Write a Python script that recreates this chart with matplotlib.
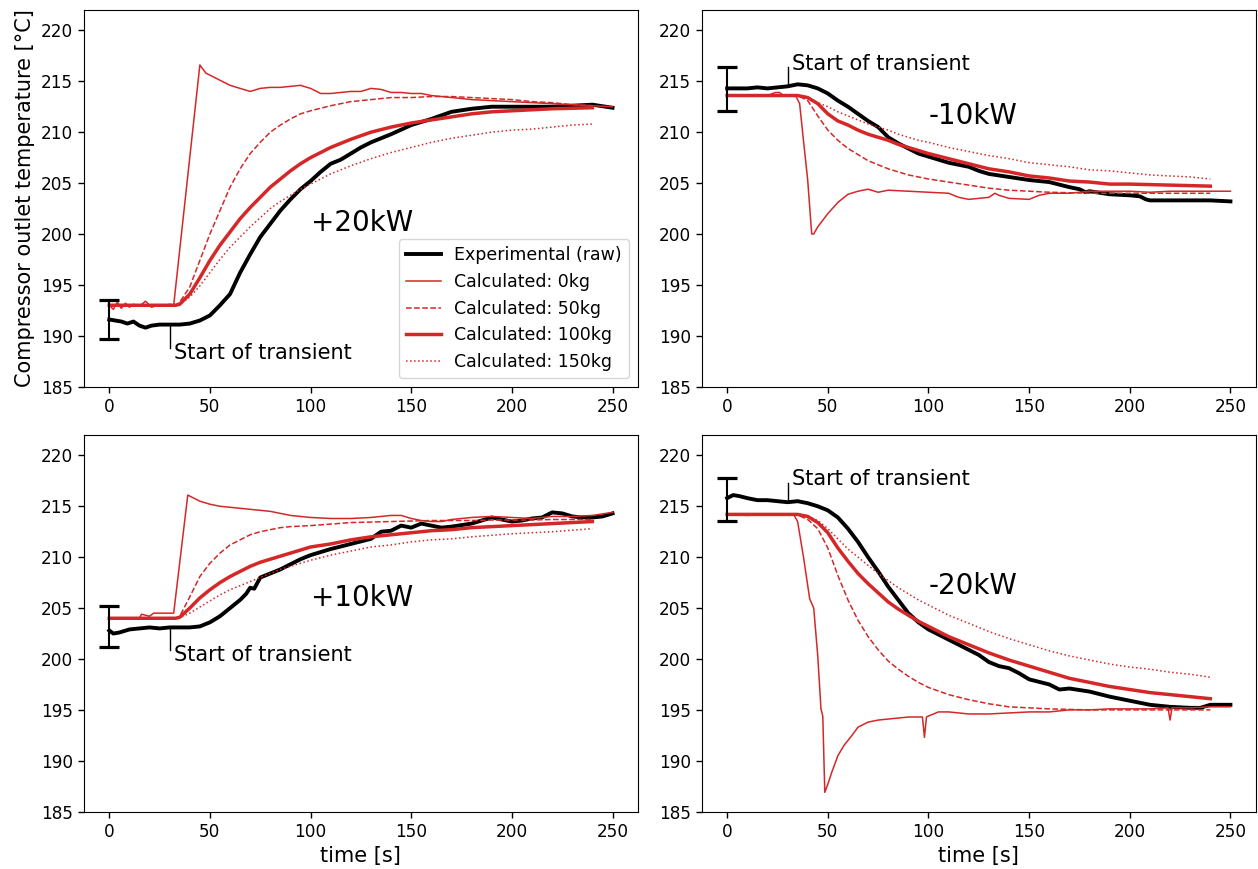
import matplotlib
matplotlib.use("Agg")
import matplotlib.pyplot as plt

RED = "#d62728"

# ---------------------------------------------------------------- data
# Common time grid of the smooth calculated responses (50/100/150 kg)
t_calc = [0, 30, 33, 35, 40, 45, 50, 55, 60, 65, 70, 75, 80, 85, 90, 95, 100,
          110, 120, 130, 140, 150, 160, 170, 180, 190, 200, 210, 220, 230, 240]

# ---- +20kW step
t_exp_p20 = [0, 3, 6, 9, 12, 15, 18, 21, 25, 30, 35, 40, 45, 50, 55, 60, 65, 70, 75,
             80, 85, 90, 95, 100, 105, 110, 115, 120, 125, 130, 140, 150, 160, 170,
             180, 190, 200, 210, 220, 230, 240, 250]
exp_p20 = [191.6, 191.5, 191.4, 191.2, 191.4, 191.0, 190.8, 191.0, 191.1, 191.1, 191.1,
           191.2, 191.5, 192.0, 193.0, 194.1, 196.2, 198.0, 199.7, 201.0, 202.3, 203.4,
           204.4, 205.2, 206.1, 206.9, 207.3, 207.9, 208.5, 209.0, 209.8, 210.7, 211.3,
           212.0, 212.3, 212.5, 212.5, 212.5, 212.5, 212.6, 212.7, 212.4]
t_0kg_p20 = [0, 2, 4, 6, 8, 10, 12, 15, 18, 21, 24, 27, 30, 32, 45, 48, 50, 55, 60, 65,
             70, 75, 80, 85, 90, 95, 100, 105, 110, 115, 120, 125, 130, 135, 140, 145,
             150, 155, 160, 170, 180, 190, 200, 210, 220, 230, 240, 250]
calc0_p20 = [193.0, 192.6, 193.3, 192.7, 193.2, 192.8, 193.1, 192.9, 193.4, 192.8, 193.0,
             192.9, 193.1, 193.0, 216.6, 215.8, 215.6, 215.1, 214.6, 214.3, 214.0, 214.3,
             214.4, 214.4, 214.5, 214.6, 214.3, 213.8, 213.8, 213.9, 214.0, 214.0, 214.3,
             214.2, 213.9, 213.9, 213.8, 213.8, 213.6, 213.4, 213.2, 213.1, 213.0, 212.9,
             212.8, 212.7, 212.6, 212.5]
calc50_p20 = [193.0, 193.0, 193.0, 193.3, 194.8, 197.4, 200.0, 202.3, 204.6, 206.4, 207.9,
              209.0, 210.0, 210.7, 211.3, 211.8, 212.1, 212.6, 213.0, 213.2, 213.4, 213.4,
              213.5, 213.5, 213.4, 213.3, 213.2, 213.0, 212.9, 212.7, 212.6]
calc100_p20 = [193.0, 193.0, 193.0, 193.1, 194.1, 195.7, 197.4, 198.9, 200.2, 201.5, 202.6,
               203.6, 204.6, 205.4, 206.2, 206.9, 207.5, 208.5, 209.3, 210.0, 210.5, 210.9,
               211.2, 211.5, 211.8, 212.0, 212.1, 212.2, 212.3, 212.35, 212.4]
calc150_p20 = [193.0, 193.0, 193.0, 193.1, 193.8, 194.9, 196.2, 197.5, 198.7, 199.7, 200.7,
               201.6, 202.5, 203.2, 203.8, 204.4, 204.9, 205.9, 206.7, 207.4, 208.0, 208.5,
               209.0, 209.4, 209.7, 210.0, 210.2, 210.3, 210.5, 210.7, 210.8]

# ---- -10kW step
t_exp_m10 = [0, 5, 10, 15, 20, 25, 30, 35, 40, 45, 50, 55, 60, 65, 70, 75, 80, 85, 90, 95,
             100, 110, 120, 125, 130, 140, 150, 160, 170, 175, 178, 180, 190, 200, 205,
             208, 210, 220, 230, 240, 250]
exp_m10 = [214.3, 214.3, 214.3, 214.4, 214.3, 214.4, 214.5, 214.7, 214.6, 214.3, 213.8,
           213.1, 212.5, 211.8, 211.1, 210.5, 209.5, 208.9, 208.4, 207.9, 207.6, 207.0,
           206.6, 206.2, 205.9, 205.6, 205.3, 205.1, 204.6, 204.4, 204.1, 204.2, 203.9,
           203.8, 203.7, 203.4, 203.3, 203.3, 203.3, 203.3, 203.2]
t_0kg_m10 = [0, 10, 20, 24, 26, 28, 34, 36, 38, 40, 42, 43, 45, 50, 55, 60, 65, 70, 75, 80,
             90, 100, 110, 115, 120, 130, 133, 135, 140, 150, 155, 160, 170, 180, 190, 200,
             210, 220, 230, 240, 250]
calc0_m10 = [213.6, 213.6, 213.6, 213.9, 213.9, 213.6, 213.6, 212.8, 209.0, 205.3, 200.0,
             200.0, 200.7, 202.0, 203.1, 203.9, 204.2, 204.4, 204.1, 204.3, 204.2, 204.1,
             204.0, 203.6, 203.4, 203.6, 204.0, 203.8, 203.5, 203.4, 203.8, 204.0, 204.0,
             204.2, 204.2, 204.2, 204.1, 204.2, 204.2, 204.2, 204.2]
calc50_m10 = [213.6, 213.6, 213.6, 213.6, 213.1, 211.6, 210.2, 209.2, 208.4, 207.8, 207.2,
              206.8, 206.4, 206.1, 205.8, 205.6, 205.4, 205.1, 204.8, 204.5, 204.3, 204.2,
              204.1, 204.05, 204.0, 204.0, 204.0, 204.0, 204.0, 204.0, 204.0]
calc100_m10 = [213.6, 213.6, 213.6, 213.6, 213.4, 212.8, 211.8, 211.1, 210.7, 210.2, 209.8,
               209.5, 209.2, 208.8, 208.5, 208.2, 207.9, 207.4, 206.9, 206.4, 206.1, 205.7,
               205.5, 205.2, 205.1, 204.9, 204.9, 204.85, 204.8, 204.75, 204.7]
calc150_m10 = [213.6, 213.6, 213.6, 213.6, 213.4, 212.9, 212.5, 212.0, 211.6, 211.2, 210.8,
               210.5, 210.2, 209.8, 209.5, 209.2, 209.0, 208.5, 208.1, 207.7, 207.4, 207.0,
               206.8, 206.6, 206.3, 206.2, 206.0, 205.8, 205.7, 205.6, 205.4]

# ---- +10kW step
t_exp_p10 = [0, 2, 5, 10, 15, 20, 25, 30, 35, 40, 45, 50, 55, 60, 65, 68, 70, 72, 75, 80,
             85, 90, 95, 100, 110, 120, 130, 135, 140, 145, 150, 155, 160, 165, 170, 180,
             185, 190, 195, 200, 205, 210, 215, 220, 225, 230, 235, 240, 245, 250]
exp_p10 = [202.8, 202.5, 202.6, 202.9, 203.0, 203.1, 203.0, 203.1, 203.1, 203.1, 203.2,
           203.6, 204.2, 205.0, 205.8, 206.4, 207.0, 206.9, 208.0, 208.4, 208.8, 209.3,
           209.8, 210.2, 210.8, 211.3, 211.8, 212.5, 212.6, 213.1, 212.9, 213.3, 213.1,
           212.9, 213.0, 213.3, 213.6, 213.9, 213.7, 213.5, 213.6, 213.8, 213.9, 214.4,
           214.3, 214.0, 213.9, 213.9, 214.0, 214.3]
t_0kg_p10 = [0, 15, 16, 20, 22, 25, 30, 32, 39, 45, 50, 55, 60, 70, 75, 80, 85, 90, 100,
             110, 120, 130, 140, 145, 150, 155, 160, 165, 170, 180, 190, 200, 210, 220,
             230, 240, 250]
calc0_p10 = [204.0, 204.0, 204.4, 204.2, 204.5, 204.5, 204.5, 204.5, 216.1, 215.5, 215.2,
             215.0, 214.9, 214.7, 214.6, 214.5, 214.3, 214.1, 213.9, 213.8, 213.8, 213.9,
             214.1, 214.1, 213.8, 213.6, 213.5, 213.5, 213.7, 213.9, 214.0, 213.9, 213.8,
             214.0, 214.0, 214.1, 214.4]
calc50_p10 = [204.0, 204.0, 204.0, 204.2, 206.1, 208.1, 209.4, 210.4, 211.2, 211.7, 212.2,
              212.5, 212.7, 212.9, 213.0, 213.05, 213.1, 213.25, 213.4, 213.45, 213.5,
              213.55, 213.6, 213.6, 213.6, 213.65, 213.65, 213.65, 213.7, 213.7, 213.7]
calc100_p10 = [204.0, 204.0, 204.0, 204.1, 205.0, 206.0, 206.8, 207.5, 208.1, 208.6, 209.1,
               209.5, 209.8, 210.1, 210.4, 210.7, 211.0, 211.3, 211.7, 212.0, 212.2, 212.4,
               212.6, 212.7, 212.9, 213.0, 213.1, 213.2, 213.3, 213.4, 213.5]
calc150_p10 = [204.0, 204.0, 204.0, 204.05, 204.5, 205.1, 205.7, 206.3, 206.8, 207.2, 207.6,
               208.0, 208.4, 208.8, 209.1, 209.4, 209.7, 210.2, 210.6, 211.0, 211.2, 211.5,
               211.7, 211.8, 212.0, 212.15, 212.3, 212.4, 212.5, 212.65, 212.8]

# ---- -20kW step
t_exp_m20 = [0, 3, 6, 10, 15, 20, 25, 30, 35, 40, 45, 50, 55, 60, 65, 70, 75, 80, 85, 90,
             95, 100, 105, 110, 120, 125, 130, 135, 140, 145, 150, 160, 165, 170, 180,
             190, 200, 210, 220, 230, 235, 240, 245, 250]
exp_m20 = [215.8, 216.1, 216.0, 215.8, 215.6, 215.6, 215.5, 215.4, 215.5, 215.3, 215.0,
           214.6, 213.9, 212.8, 211.5, 210.0, 208.6, 207.1, 205.8, 204.5, 203.6, 202.9,
           202.4, 201.9, 200.9, 200.4, 199.7, 199.3, 199.1, 198.6, 198.0, 197.5, 197.0,
           197.1, 196.8, 196.3, 195.9, 195.5, 195.3, 195.2, 195.2, 195.5, 195.5, 195.5]
t_0kg_m20 = [0, 10, 20, 30, 33, 35, 38, 41, 43, 45, 46.6, 47.5, 48.5, 50, 52, 55, 58, 62,
             65, 70, 75, 80, 90, 97, 98, 99, 100, 105, 110, 120, 130, 140, 150, 160, 170,
             180, 190, 200, 210, 219, 220, 221, 230, 240, 250]
calc0_m20 = [214.2, 214.1, 214.2, 214.2, 214.2, 213.5, 209.9, 205.9, 205.0, 200.3, 195.1,
             194.4, 186.9, 187.7, 188.9, 190.5, 191.5, 192.5, 193.3, 193.8, 194.0, 194.1,
             194.3, 194.3, 192.3, 194.3, 194.4, 194.8, 194.8, 194.6, 194.6, 194.7, 194.8,
             194.8, 195.0, 195.0, 195.1, 195.1, 195.1, 195.2, 194.0, 195.2, 195.2, 195.3,
             195.3]
calc50_m20 = [214.2, 214.2, 214.2, 214.15, 213.7, 212.8, 210.9, 208.2, 205.8, 203.8, 202.2,
              200.9, 199.8, 199.0, 198.3, 197.7, 197.2, 196.5, 196.0, 195.6, 195.3, 195.2,
              195.1, 195.05, 195.0, 195.0, 195.0, 195.0, 195.0, 195.0, 195.0]
calc100_m20 = [214.2, 214.2, 214.2, 214.2, 214.0, 213.4, 212.4, 210.9, 209.6, 208.4, 207.4,
               206.5, 205.6, 204.9, 204.3, 203.7, 203.2, 202.2, 201.4, 200.6, 199.9, 199.3,
               198.7, 198.1, 197.7, 197.3, 197.0, 196.7, 196.5, 196.3, 196.1]
calc150_m20 = [214.2, 214.2, 214.2, 214.2, 214.0, 213.6, 212.8, 211.8, 210.8, 210.0, 209.2,
               208.4, 207.7, 207.0, 206.4, 205.8, 205.3, 204.3, 203.5, 202.7, 202.0, 201.4,
               200.8, 200.3, 199.9, 199.5, 199.2, 199.0, 198.7, 198.5, 198.2]

# Initial-state uncertainty bars at t = 0 (centre, half-width)
err_center = [191.6, 214.25, 203.2, 215.7]
err_half = [1.9, 2.15, 2.0, 2.1]

# Step labels and annotation placement (label baseline, marker line ends, text baseline)
step_labels = ["+20kW", "-10kW", "+10kW", "-20kW"]
step_label_y = [200.3, 210.8, 205.2, 206.4]
start_line = [(191.1, 188.85), (214.6, 216.4), (203.1, 200.9), (215.4, 217.3)]
start_text_y = [187.75, 216.15, 199.8, 217.1]
t_start = 30

panels = [
    (t_exp_p20, exp_p20, t_0kg_p20, calc0_p20, calc50_p20, calc100_p20, calc150_p20),
    (t_exp_m10, exp_m10, t_0kg_m10, calc0_m10, calc50_m10, calc100_m10, calc150_m10),
    (t_exp_p10, exp_p10, t_0kg_p10, calc0_p10, calc50_p10, calc100_p10, calc150_p10),
    (t_exp_m20, exp_m20, t_0kg_m20, calc0_m20, calc50_m20, calc100_m20, calc150_m20),
]

# ---------------------------------------------------------------- figure
W, H = 1258, 869
fig = plt.figure(figsize=(W / 100, H / 100), dpi=100)

ax_w, ax_h = 553.6 / W, 376.7 / H
lefts = [84.1 / W, 702.0 / W]
bottoms = [1 - 386.7 / H, 1 - 811.7 / H]
axes = [fig.add_axes([lefts[i % 2], bottoms[i // 2], ax_w, ax_h]) for i in range(4)]

for i, ax in enumerate(axes):
    t_exp, exp, t0, c0, c50, c100, c150 = panels[i]
    ax.plot(t_exp, exp, color="black", lw=2.8, label="Experimental (raw)", zorder=2)
    ax.plot(t0, c0, color=RED, lw=1.1, label="Calculated: 0kg", zorder=3)
    ax.plot(t_calc, c50, color=RED, lw=1.1, ls="--", label="Calculated: 50kg", zorder=3)
    ax.plot(t_calc, c100, color=RED, lw=2.5, label="Calculated: 100kg", zorder=3)
    ax.plot(t_calc, c150, color=RED, lw=1.1, ls=":", label="Calculated: 150kg", zorder=3)

    ax.errorbar([0], [err_center[i]], yerr=[err_half[i]], color="black",
                elinewidth=1.5, capsize=7.5, capthick=2.3, fmt="none", zorder=4)

    y_a, y_b = start_line[i]
    ax.plot([t_start, t_start], [y_a, y_b], color="black", lw=1.0, zorder=4)
    ax.text(32.3, start_text_y[i], "Start of transient", fontsize=15,
            ha="left", va="baseline")

    ax.text(100, step_label_y[i], step_labels[i], fontsize=20, ha="left", va="baseline")

    ax.set_xlim(-12.5, 262.5)
    ax.set_ylim(185, 222)
    ax.set_xticks([0, 50, 100, 150, 200, 250])
    ax.set_yticks([185, 190, 195, 200, 205, 210, 215, 220])
    ax.tick_params(labelsize=12.2, length=4.5, width=1.0)

axes[0].set_ylabel("Compressor outlet temperature [°C]", fontsize=15)
axes[2].set_xlabel("time [s]", fontsize=15)
axes[3].set_xlabel("time [s]", fontsize=15)
axes[0].legend(loc="lower right", fontsize=12.5)

fig.savefig("out.png", dpi=100)
